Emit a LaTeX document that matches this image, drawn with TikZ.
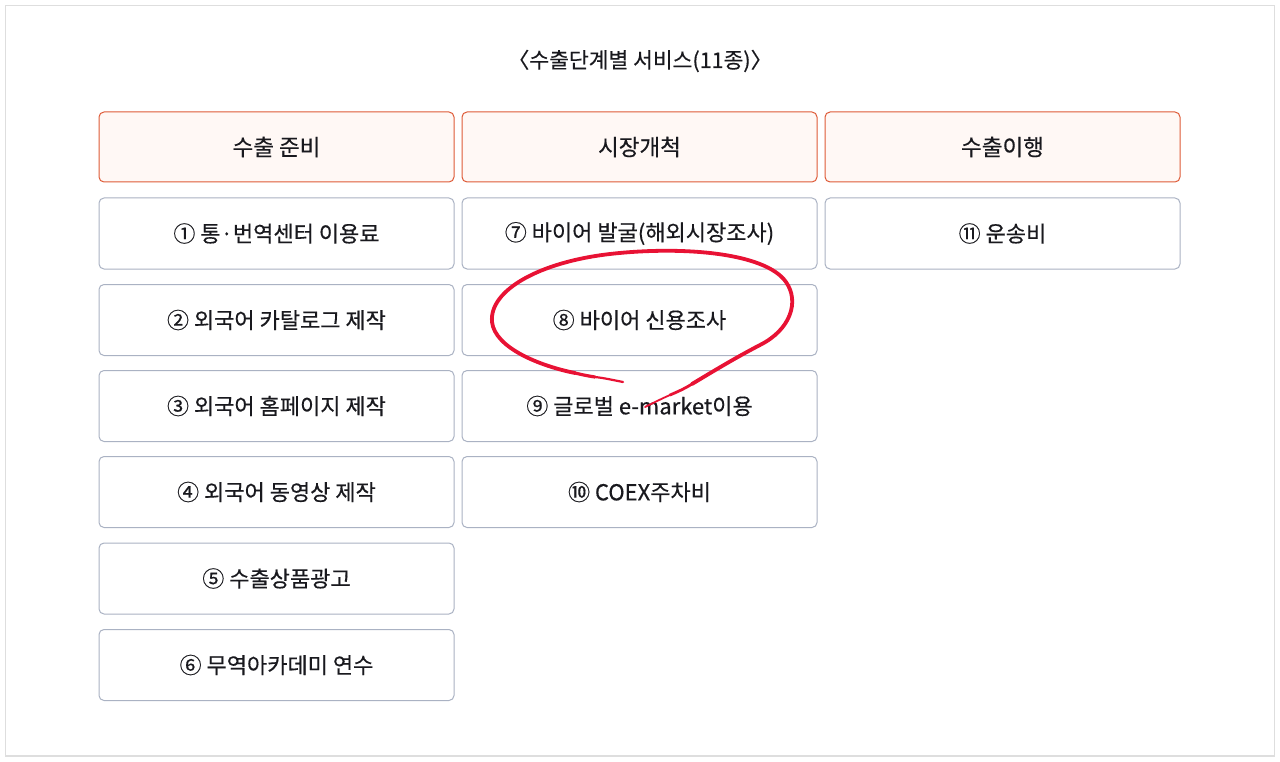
\documentclass[tikz,border=0pt]{standalone}
\usepackage{fontspec}
\setmainfont{Noto Sans CJK KR}[FakeBold=0.4]
\begin{document}
\begin{tikzpicture}[x=1pt,y=-1pt,
  hdr/.style={draw=hdrline, fill=hdrfill, line width=1pt, rounded corners=5pt, minimum width=355pt, minimum height=70pt, inner sep=0pt, font=\fontsize{22.5}{26}\selectfont, text=txt},
  cell/.style={draw=cellline, fill=white, line width=1pt, rounded corners=5pt, minimum width=355pt, minimum height=71pt, inner sep=0pt, font=\fontsize{22}{26}\selectfont, text=txt},
  scribble/.style={draw=scrib, line cap=round, line join=round}]
\definecolor{hdrline}{RGB}{222,90,55}
\definecolor{hdrfill}{RGB}{255,248,245}
\definecolor{cellline}{RGB}{170,178,195}
\definecolor{txt}{RGB}{25,25,30}
\definecolor{frame}{RGB}{222,222,222}
\definecolor{scrib}{RGB}{232,18,52}
\useasboundingbox (0,0) rectangle (1280,762);
\draw[frame, line width=1.5pt] (5.5,5.5) rectangle (1274.5,756);
\node[font=\fontsize{21.5}{25}\selectfont, text=txt] (title) at (640,61) {〈수출단계별 서비스(11종)〉};
\node[hdr] (h1) at (276.5,147) {수출 준비};
\node[hdr] (h2) at (639.5,147) {시장개척};
\node[hdr] (h3) at (1002.5,147) {수출이행};
\node[cell] (c1) at (276.5,233.5) {① 통·번역센터 이용료};
\node[cell] (c2) at (276.5,320) {② 외국어 카탈로그 제작};
\node[cell] (c3) at (276.5,406) {③ 외국어 홈페이지 제작};
\node[cell] (c4) at (276.5,492) {④ 외국어 동영상 제작};
\node[cell] (c5) at (276.5,578.5) {⑤ 수출상품광고};
\node[cell] (c6) at (276.5,665) {⑥ 무역아카데미 연수};
\node[cell] (c7) at (639.5,233.5) {⑦ 바이어 발굴(해외시장조사)};
\node[cell] (c8) at (639.5,320) {⑧ 바이어 신용조사};
\node[cell] (c9) at (639.5,406) {⑨ 글로벌 e-market이용};
\node[cell] (c10) at (639.5,492) {⑩ COEX주차비};
\node[cell] (c11) at (1002.5,233.5) {⑪ 운송비};
% red hand-drawn loop
\draw[scribble, line width=2.2pt] (623,382) .. controls (613,380) and (604,378) .. (595,377);
\draw[scribble, line width=3.2pt] (595,377) .. controls (588,376) and (581,374.5) .. (575,373);
\draw[scribble, line width=3.8pt] (575,373) .. controls (540,366) and (495,348) .. (492,322)
  .. controls (489,290) and (540,262) .. (610,254)
  .. controls (680,246) and (765,252) .. (786,282)
  .. controls (800,302) and (790,330) .. (760,345)
  .. controls (735,358) and (712,372) .. (692,384);
\draw[scribble, line width=2.8pt] (692,384) .. controls (684,389) and (677,392) .. (670,395);
\draw[scribble, line width=1.8pt] (670,395) .. controls (661,399) and (653,403) .. (645,407);
\end{tikzpicture}
\end{document}
